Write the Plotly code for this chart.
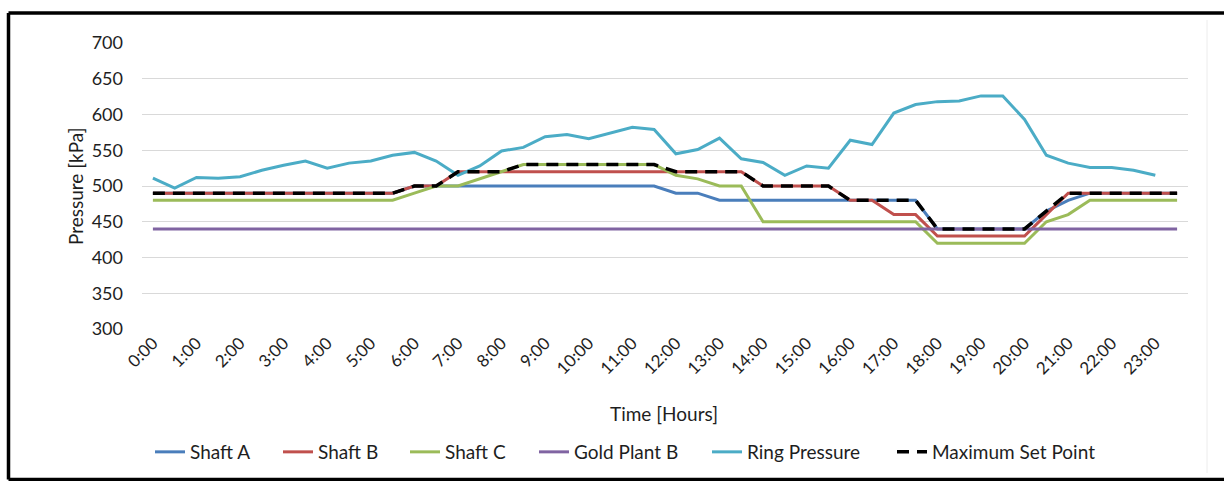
import plotly.graph_objects as go

# Half-hourly time stamps over one day
times = [f"{h}:{m:02d}" for h in range(24) for m in (0, 30)]
hour_ticks = [f"{h}:00" for h in range(24)]

# Pressures in kPa, one value per half hour
shaft_a = [490] * 12 + [500] * 12 + [490, 490] + [480] * 10 + [440] * 5 + [465, 480] + [490] * 5
shaft_b = [490] * 12 + [500, 500] + [520] * 14 + [500] * 4 + [480, 480, 460, 460] + [430] * 5 + [460] + [490] * 6
shaft_c = ([480] * 12 + [490, 500, 500, 510, 520] + [530] * 7 + [515, 510, 500, 500]
           + [450] * 8 + [420] * 5 + [450, 460] + [480] * 5)
gold_plant_b = [440] * 48
ring_pressure = [511, 497, 512, 511, 513, 522, 529, 535, 525, 532, 535, 543, 547, 535, 515, 528,
                 549, 554, 569, 572, 566, 574, 582, 579, 545, 551, 567, 538, 533, 515, 528, 525,
                 564, 558, 602, 614, 618, 619, 626, 626, 593, 543, 532, 526, 526, 522, 515]
max_set_point = ([490] * 12 + [500, 500] + [520] * 3 + [530] * 7 + [520] * 4 + [500] * 4
                 + [480] * 4 + [440] * 5 + [465] + [490] * 6)

FONT = "Lato"
TEXT = "#1e1e1e"

series = [
    ("Shaft A", shaft_a, "#4A7EBB", "solid", 3),
    ("Shaft B", shaft_b, "#C0504D", "solid", 3),
    ("Shaft C", shaft_c, "#9BBB59", "solid", 3),
    ("Gold Plant B", gold_plant_b, "#8064A2", "solid", 3),
    ("Ring Pressure", ring_pressure, "#4BACC6", "solid", 3),
    ("Maximum Set Point", max_set_point, "#000000", "12px,8px", 3.5),
]

# left edge (px) of each legend entry
legend_x = [150, 278, 405, 534, 707, 892]

fig = go.Figure()
legend_layouts = {}
for i, (name, vals, color, dash, width) in enumerate(series):
    key = "legend" if i == 0 else f"legend{i + 1}"
    fig.add_trace(go.Scatter(
        x=times[:len(vals)], y=vals, name=name, mode="lines",
        line=dict(color=color, width=width, dash=dash),
        legend=key,
    ))
    legend_layouts[key] = dict(
        xref="container", yref="container",
        x=legend_x[i] / 1224, y=1 - 452 / 481,
        xanchor="left", yanchor="middle",
        font=dict(family=FONT, size=19, color=TEXT),
        bgcolor="rgba(0,0,0,0)", borderwidth=0,
    )

L, R, T, B = 142, 36, 43, 152
W, H = 1224, 481
PW, PH = W - L - R, H - T - B


def px_x(p):
    return (p - L) / PW


def px_y(p):
    return (H - B - p) / PH


frame = dict(color="#000000", width=3.5)
shapes = [
    dict(type="line", xref="paper", yref="paper", x0=px_x(8.5), x1=px_x(8.5), y0=px_y(13), y1=px_y(479.5), line=frame),
    dict(type="line", xref="paper", yref="paper", x0=px_x(8.5), x1=px_x(1240), y0=px_y(13), y1=px_y(13), line=frame),
    dict(type="line", xref="paper", yref="paper", x0=px_x(8.5), x1=px_x(1240), y0=px_y(479.5), y1=px_y(479.5), line=frame),
    dict(type="line", xref="paper", yref="paper", x0=px_x(1207), x1=px_x(1207), y0=px_y(20), y1=px_y(473),
         line=dict(color="#ececec", width=1)),
]

title_font = dict(family=FONT, size=19, color=TEXT)
annotations = [
    dict(text="Time [Hours]", xref="paper", yref="paper", x=px_x(664), y=px_y(414),
         xanchor="center", yanchor="middle", showarrow=False, font=title_font),
    dict(text="Pressure [kPa]", xref="paper", yref="paper", x=px_x(75), y=px_y(186),
         xanchor="center", yanchor="middle", showarrow=False, textangle=-90, font=title_font),
]

fig.update_layout(
    width=W, height=H, autosize=False,
    margin=dict(l=L, r=R, t=T, b=B, pad=0, autoexpand=False),
    paper_bgcolor="white", plot_bgcolor="white",
    font=dict(family=FONT, color=TEXT),
    showlegend=True,
    shapes=shapes,
    annotations=annotations,
    **legend_layouts,
)

fig.update_xaxes(
    type="category", categoryorder="array", categoryarray=times,
    range=[-0.5, len(times) - 0.5],
    tickmode="array", tickvals=times[::2], ticktext=hour_ticks,
    tickangle=-45, tickfont=dict(family=FONT, size=17, color=TEXT),
    showgrid=False, showline=False, zeroline=False, ticks="", automargin=False,
)
fig.update_yaxes(
    range=[300, 700], dtick=50, tick0=300,
    showgrid=True, gridcolor="#D9D9D9", gridwidth=1,
    showline=False, zeroline=False, ticks="", automargin=False,
    ticklabelstandoff=18,
    tickfont=dict(family=FONT, size=18, color=TEXT),
)

fig.write_html("out.html")
